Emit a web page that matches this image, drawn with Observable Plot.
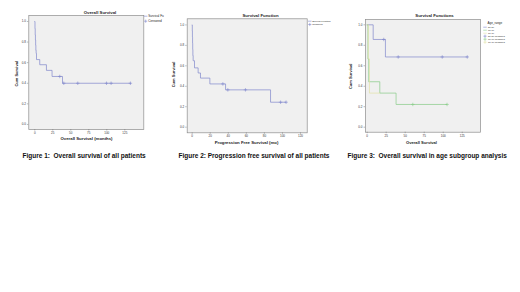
<!DOCTYPE html>
<html><head><meta charset="utf-8">
<script src="https://cdn.jsdelivr.net/npm/d3@7"></script>
<script src="https://cdn.jsdelivr.net/npm/@observablehq/plot@0.6"></script>
<style>
body{margin:0;background:#fff}
#c{position:relative;width:520px;height:292px;overflow:hidden;background:#fff}
#c svg{position:absolute;top:0}
</style>
</head><body><div id="c"></div>
<script>
// ---------- DATA ----------
// Figure 1: overall survival (months)
const osTime = [0, 0.3, 0.6, 0.9, 1.2, 1.5, 1.9, 2.4, 6.9, 16.2, 24, 38.5, 133];
const osSurv = [1, 0.93, 0.87, 0.82, 0.77, 0.72, 0.69, 0.63, 0.58, 0.525, 0.466, 0.40, 0.40];
const osCensorTime = [34.7, 40.3, 59.7, 99.6, 106, 132.8];
const osCensorSurv = [0.466, 0.40, 0.40, 0.40, 0.40, 0.40];
// Figure 2: progression free survival (mo)
const pfsTime = [0, 0.15, 0.3, 0.45, 0.6, 0.8, 1.1, 2.6, 6.6, 9.2, 19.6, 37, 86.8, 104];
const pfsSurv = [1, 0.94, 0.88, 0.82, 0.76, 0.70, 0.65, 0.58, 0.53, 0.48, 0.423, 0.365, 0.244, 0.244];
const pfsCensorTime = [34, 39.5, 59, 97.9, 104];
const pfsCensorSurv = [0.423, 0.365, 0.365, 0.244, 0.244];
// Figure 3: overall survival by age range
const ageGroups = ["50-59", "60-69", "70-79"];
const ageTime = [[0, 7.9, 24, 131.6], [0, 1, 2, 16.6, 38, 105], [0, 1.5, 3, 16.6]];
const ageSurv = [[1, 0.857, 0.686, 0.686], [1, 0.667, 0.444, 0.333, 0.222, 0.222], [1, 0.667, 0.333, 0.333]];
const ageCensorTime = [[21.8, 40.8, 98.7, 131.6], [60, 105], []];
const ageCensorSurv = [[0.857, 0.686, 0.686, 0.686], [0.222, 0.222], []];
const ageColors = ["#7f86cc", "#86cc86", "#e2e2a6"];
// ticks
const xTicks1 = [0, 25, 50, 75, 100, 125];
const xTicks2 = [0, 20, 40, 60, 80, 100, 120];
const yTicks = [0, 0.2, 0.4, 0.6, 0.8, 1.0];

// ---------- DRAW ----------
const FONT = "'Liberation Sans', Arial, sans-serif";
const root = document.getElementById("c");
const dashSymbol = {draw(ctx, size) { const r = Math.sqrt(size / Math.PI) * 1.6; ctx.moveTo(-r, 0); ctx.lineTo(r, 0); }};

function panel(cfg) {
  const {left, width, height, frame: [fx0, fy0, fx1, fy1], xDomain, yDomain, xTicks, series, texts, glyphs} = cfg;
  const mL = fx0 - left, mT = fy0, mR = left + width - fx1, mB = height - fy1;
  const T = (t) => Plot.text([t.text], {
    text: d => d, frameAnchor: "top-left",
    dx: t.x - left - mL, dy: t.y - mT,
    textAnchor: t.anchor || "middle", lineAnchor: "middle",
    fontSize: t.size || 4, fontWeight: t.weight || "bold",
    fill: t.fill || "#222", rotate: t.rotate || 0
  });
  const G = (g) => Plot.dot([0], {frameAnchor: "top-left", dx: g.x - left - mL, dy: g.y - mT,
        symbol: g.type === "line" ? dashSymbol : "plus", r: 1.1, stroke: g.color, strokeWidth: 0.6});
  const marks = [
    Plot.frame({fill: "#f0f0f0", stroke: "#8c8c8c", strokeWidth: 0.7}),
    Plot.axisX(xTicks, {anchor: "bottom", tickSize: 1.5, tickPadding: 1, fontSize: 3, label: null, stroke: "#777", fill: "#333", strokeWidth: 0.5}),
    Plot.axisY(yTicks, {anchor: "left", tickSize: 1.5, tickPadding: 1.5, fontSize: 3, label: null, tickFormat: ".1f", stroke: "#777", fill: "#333", strokeWidth: 0.5})
  ];
  for (const s of series) {
    const pts = s.time.map((t, i) => ({t, s: s.surv[i]}));
    marks.push(Plot.line(pts, {x: "t", y: "s", curve: "step-after", stroke: s.color, strokeWidth: 0.7}));
    const cps = s.ctime.map((t, i) => ({t, s: s.csurv[i]}));
    marks.push(Plot.dot(cps, {x: "t", y: "s", symbol: "plus", r: 1.2, stroke: s.color, strokeWidth: 0.6}));
  }
  for (const g of glyphs) marks.push(G(g));
  for (const t of texts) marks.push(T(t));
  const svg = Plot.plot({
    width, height, marginLeft: mL, marginTop: mT, marginRight: mR, marginBottom: mB,
    x: {domain: xDomain}, y: {domain: yDomain},
    style: {background: "none", overflow: "visible", fontFamily: FONT},
    marks
  });
  svg.style.left = left + "px";
  root.appendChild(svg);
}

const blue = "#7f86cc";

panel({
  left: 0, width: 175, height: 160, frame: [28.3, 15, 143.3, 129],
  xDomain: [-8.3, 151.4], yDomain: [-0.049, 1.058], xTicks: xTicks1,
  series: [{time: osTime, surv: osSurv, ctime: osCensorTime, csurv: osCensorSurv, color: blue}],
  glyphs: [{type: "line", x: 145.2, y: 15.7, color: blue}, {type: "plus", x: 145.2, y: 20.7, color: blue}],
  texts: [
    {text: "Overall Survival", x: 99.5, y: 12.3, size: 4.3},
    {text: "Overall Survival (months)", x: 86, y: 138.3, size: 4.3},
    {text: "Cum Survival", x: 16.7, y: 73.3, size: 4, rotate: -90},
    {text: "Survival Fu", x: 147.8, y: 15.7, size: 3.1, weight: "normal", anchor: "start"},
    {text: "Censored", x: 147.8, y: 20.7, size: 3.1, weight: "normal", anchor: "start"},
    {text: "Figure 1:  Overall survival of all patients", x: 22, y: 155.5, size: 6.5, anchor: "start", fill: "#111"}
  ]
});

panel({
  left: 175, width: 170, height: 160, frame: [186.7, 18.3, 306.7, 132.3],
  xDomain: [-5.5, 127.4], yDomain: [-0.055, 1.06], xTicks: xTicks2,
  series: [{time: pfsTime, surv: pfsSurv, ctime: pfsCensorTime, csurv: pfsCensorSurv, color: blue}],
  glyphs: [{type: "line", x: 309.3, y: 20.7, color: blue}, {type: "plus", x: 309.3, y: 24, color: blue}],
  texts: [
    {text: "Survival Function", x: 260, y: 15, size: 4.3},
    {text: "Progression Free Survival (mo)", x: 246, y: 142, size: 4.3},
    {text: "Cum Survival", x: 173, y: 74, size: 4, rotate: -90},
    {text: "Survival Function", x: 311.7, y: 20.7, size: 2.4, weight: "normal", anchor: "start"},
    {text: "Censored", x: 311.7, y: 24, size: 2.4, weight: "normal", anchor: "start"},
    {text: "Figure 2: Progression free survival of all patients", x: 178, y: 155.5, size: 6.5, anchor: "start", fill: "#111"}
  ]
});

const ageSeries = ageGroups.map((g, i) => ({time: ageTime[i], surv: ageSurv[i], ctime: ageCensorTime[i], csurv: ageCensorSurv[i], color: ageColors[i]}));
const legY = [26.7, 29.7, 32.7, 35.7, 38.7, 41.7];
const legLabels = [...ageGroups, ...ageGroups.map(g => g + "-censored")];
panel({
  left: 345, width: 175, height: 160, frame: [365, 19, 480, 131.7],
  xDomain: [-2.2, 149], yDomain: [-0.049, 1.052], xTicks: xTicks1,
  series: ageSeries,
  glyphs: legLabels.map((l, i) => ({type: i < 3 ? "line" : "plus", x: 484.5, y: legY[i], color: ageColors[i % 3]})),
  texts: [
    {text: "Survival Functions", x: 434, y: 15, size: 4.3},
    {text: "Overall Survival", x: 421, y: 142.3, size: 4.1},
    {text: "Cum Survival", x: 350, y: 75.8, size: 4, rotate: -90},
    {text: "Age_range", x: 487, y: 22.3, size: 3, weight: "normal", anchor: "start"},
    ...legLabels.map((l, i) => ({text: l, x: 487.5, y: legY[i], size: 2.4, weight: "normal", anchor: "start"})),
    {text: "Figure 3:  Overall survival in age subgroup analysis", x: 347, y: 155.5, size: 6.5, anchor: "start", fill: "#111"}
  ]
});
</script></body></html>
